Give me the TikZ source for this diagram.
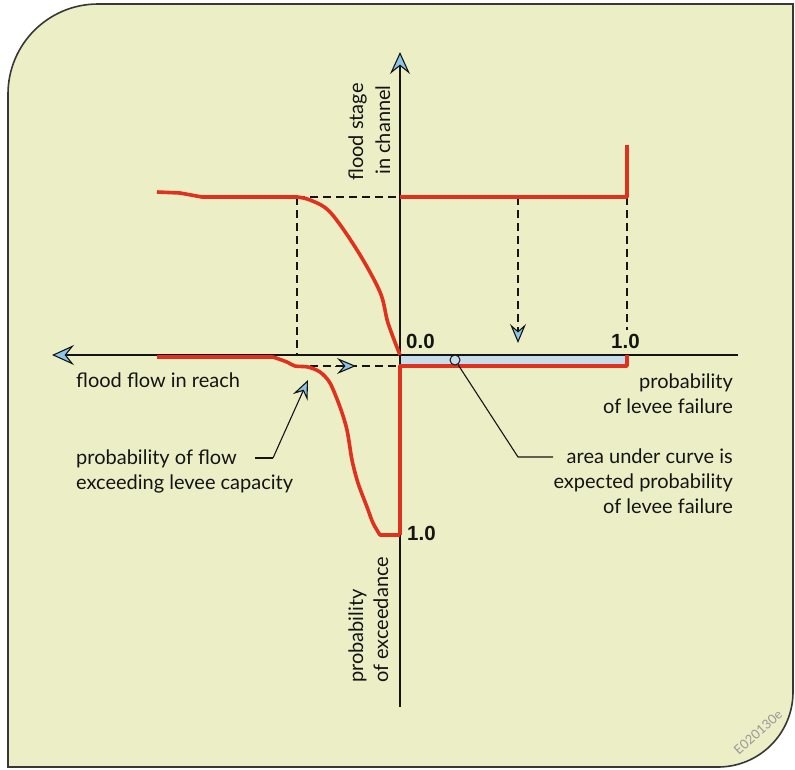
\documentclass[tikz,border=0pt]{standalone}
\usepackage{fontspec}
\setmainfont{Lato}
\newfontfamily\numfont{Liberation Sans}
\usetikzlibrary{arrows.meta}
\definecolor{bg}{HTML}{ECEFC6}
\definecolor{redc}{HTML}{E0301E}
\definecolor{arrb}{HTML}{8CC5E6}
\definecolor{areab}{HTML}{C6DDEC}
\definecolor{ink}{HTML}{141414}
\begin{document}
\begin{tikzpicture}[x=1pt,y=-1pt,
  redline/.style={draw=redc,line width=3.6pt,line join=round},
  axisline/.style={draw=ink,line width=2.3pt},
  dashline/.style={draw=ink,line width=1.9pt,dash pattern=on 8pt off 5pt},
  bigtip/.style={-{Stealth[length=22pt,width=20pt,inset=8pt,fill=arrb,line width=1.1pt]}},
  smalltip/.style={-{Stealth[length=19pt,width=16pt,inset=7pt,fill=arrb,line width=1.1pt]}},
  leader/.style={draw=ink,line width=1.1pt},
  lbl/.style={font=\fontsize{20}{25}\selectfont,text=ink,inner sep=0pt},
  num/.style={font=\numfont\bfseries\fontsize{20.5}{24}\selectfont,text=ink,inner sep=0pt},
]
\useasboundingbox (0,0) rectangle (795,769);
% frame
\filldraw[fill=bg,draw=ink!85,line width=1.6pt]
  (8,767) -- (8,94) arc[start angle=180,end angle=90,radius=90pt]
  -- (793,4) -- (793,692) arc[start angle=0,end angle=-90,radius=75pt]
  -- cycle;

% coordinates
\coordinate (O) at (400,355);
\coordinate (xl) at (52,355);
\coordinate (xr) at (738,355);
\coordinate (yt) at (400,52);
\coordinate (yb) at (400,707);

% shaded area
\fill[areab] (400,355) rectangle (627,366);

% dashed guides
\draw[dashline] (297,197) -- (400,197);
\draw[dashline] (297,197) -- (297,355);
\draw[dashline] (627,197) -- (627,330);
\draw[dashline,smalltip] (518,197) -- (518,343);
\draw[dashline] (297,366) -- (400,366);
\draw[smalltip,draw=ink,line width=1pt] (335,366) -- (356,366);

% axes
\draw[axisline,bigtip] (xr) -- (xl);
\draw[axisline,bigtip] (yb) -- (yt);

% red curves
\draw[redline] (157,192) -- (180,193) -- (202,197) -- (297,197)
  plot[smooth,tension=0.55] coordinates {(297,197) (310,200) (330,212) (357,250) (380,292) (388,323) (400,355)};
\draw[redline] (400,197) -- (627,197) -- (627,145);
\draw[redline] (157,357) -- (273,357)
  plot[smooth,tension=0.5] coordinates {(273,357) (287,362) (295,366) (308,367) (320,372) (330,383) (340,407) (347,430) (352,460) (358,483) (367,507) (373,523) (380,535)}
  -- (400,535);
\draw[redline] (627,355) -- (627,366) -- (400,366) -- (400,535);

% small circle and leader
\node[circle,draw=ink,fill=areab,line width=1pt,minimum size=10pt,inner sep=0pt] (dot) at (455,360) {};
\coordinate (bend1) at (518,457);
\coordinate (end1) at (553,457);
\draw[leader] (dot) -- (bend1) -- (end1);

% leader arrow for flow probability
\coordinate (s2) at (255,458);
\coordinate (bend2) at (273,458);
\coordinate (tip2) at (308,380);
\draw[leader] (s2) -- (bend2);
\draw[leader,smalltip] (bend2) -- (tip2);

% numbers
\node[num,anchor=base west] (n00) at (406,348) {0.0};
\node[num,anchor=base west] (n10a) at (611,348) {1.0};
\node[num,anchor=base west] (n10b) at (407,540) {1.0};

% labels
\node[lbl,anchor=base west] (ffr) at (76,387) {flood flow in reach};
\node[lbl,anchor=base west] (pf1) at (76,464) {probability of flow};
\node[lbl,anchor=base west] (pf2) at (76,489) {exceeding levee capacity};
\node[lbl,anchor=base east] (pl1) at (733,388) {probability};
\node[lbl,anchor=base east] (pl2) at (733,413) {of levee failure};
\node[lbl,anchor=base east] (au1) at (733,463) {area under curve is};
\node[lbl,anchor=base east] (au2) at (733,488) {expected probability};
\node[lbl,anchor=base east] (au3) at (733,513) {of levee failure};
\node[lbl,anchor=base,rotate=90] (fs1) at (363,132) {flood stage};
\node[lbl,anchor=base,rotate=90] (fs2) at (390,130) {in channel};
\node[lbl,anchor=base west,rotate=90] (pe1) at (363,683) {probability};
\node[lbl,anchor=base west,rotate=90] (pe2) at (388,683) {of exceedance};
\node[font=\fontsize{13}{15}\selectfont,text=black!40,rotate=42,inner sep=0pt] (code) at (758,732) {E020130e};
\end{tikzpicture}
\end{document}
